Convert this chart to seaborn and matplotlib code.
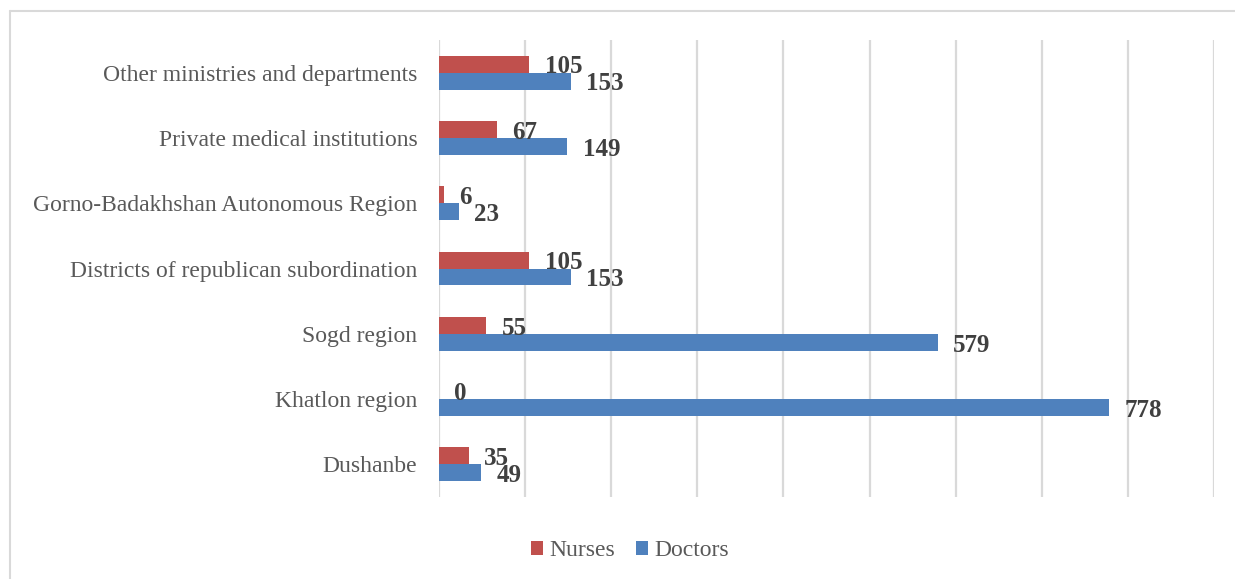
import numpy as np
import pandas as pd
import seaborn as sns
import matplotlib.pyplot as plt
from matplotlib.patches import Patch
from matplotlib.lines import Line2D

# Data (top to bottom as shown)
categories = [
    "Other ministries and departments",
    "Private medical institutions",
    "Gorno-Badakhshan Autonomous Region",
    "Districts of republican subordination",
    "Sogd region",
    "Khatlon region",
    "Dushanbe",
]
nurses = [105, 67, 6, 105, 55, 0, 35]
doctors = [153, 149, 23, 153, 579, 778, 49]
series = ["Nurses", "Doctors"]
colors = ["#C0504D", "#4F81BD"]

df = pd.DataFrame({
    "Category": categories * 2,
    "Value": nurses + doctors,
    "Series": ["Nurses"] * len(categories) + ["Doctors"] * len(categories),
})

sns.set_style("white")
plt.rcParams["font.family"] = ["Liberation Serif", "DejaVu Serif"]

fig = plt.figure(figsize=(12.35, 5.79), dpi=100)
ax = fig.add_axes([439 / 1235, 1 - 497 / 579, (1214 - 439) / 1235, (497 - 40) / 579])

sns.barplot(
    data=df, y="Category", x="Value", hue="Series",
    order=categories, hue_order=series, palette=colors,
    orient="h", width=0.52, linewidth=0, saturation=1, ax=ax,
)

# value labels, nudged slightly below bar centre like the original
for cont in ax.containers:
    labels = ax.bar_label(cont, padding=11, fontsize=18, fontweight="bold", color="#404040")
    for t in labels:
        t.xyann = (11, -2)

ax.set_xlim(0, 900)
ax.set_xticks(np.arange(0, 901, 100))
ax.set_xticklabels([])
ax.grid(axis="x", color="#D9D9D9", linewidth=1.6)
ax.grid(axis="y", visible=False)
ax.set_axisbelow(True)
ax.tick_params(axis="both", length=0)
ax.tick_params(axis="y", labelsize=17, labelcolor="#595959", pad=15.5)
ax.set_xlabel("")
ax.set_ylabel("")
for s in ax.spines.values():
    s.set_visible(False)

ax.get_legend().remove()
handles = [Patch(facecolor=c, edgecolor="none") for c in colors]
fig.legend(handles, series, loc="center", bbox_to_anchor=(630 / 1235, 1 - 551 / 579),
           ncol=2, frameon=False, fontsize=17, labelcolor="#595959",
           handlelength=0.52, handleheight=0.52, handletextpad=0.25, columnspacing=0.9)

# Chart frame
fig.add_artist(Line2D([9.5 / 1235, 9.5 / 1235], [0, 1 - 10.5 / 579],
                      transform=fig.transFigure, color="#D9D9D9", linewidth=1.5))
fig.add_artist(Line2D([9.5 / 1235, 1], [1 - 10.5 / 579, 1 - 10.5 / 579],
                      transform=fig.transFigure, color="#D9D9D9", linewidth=1.5))

fig.savefig("out.png", dpi=100)
plt.close(fig)
